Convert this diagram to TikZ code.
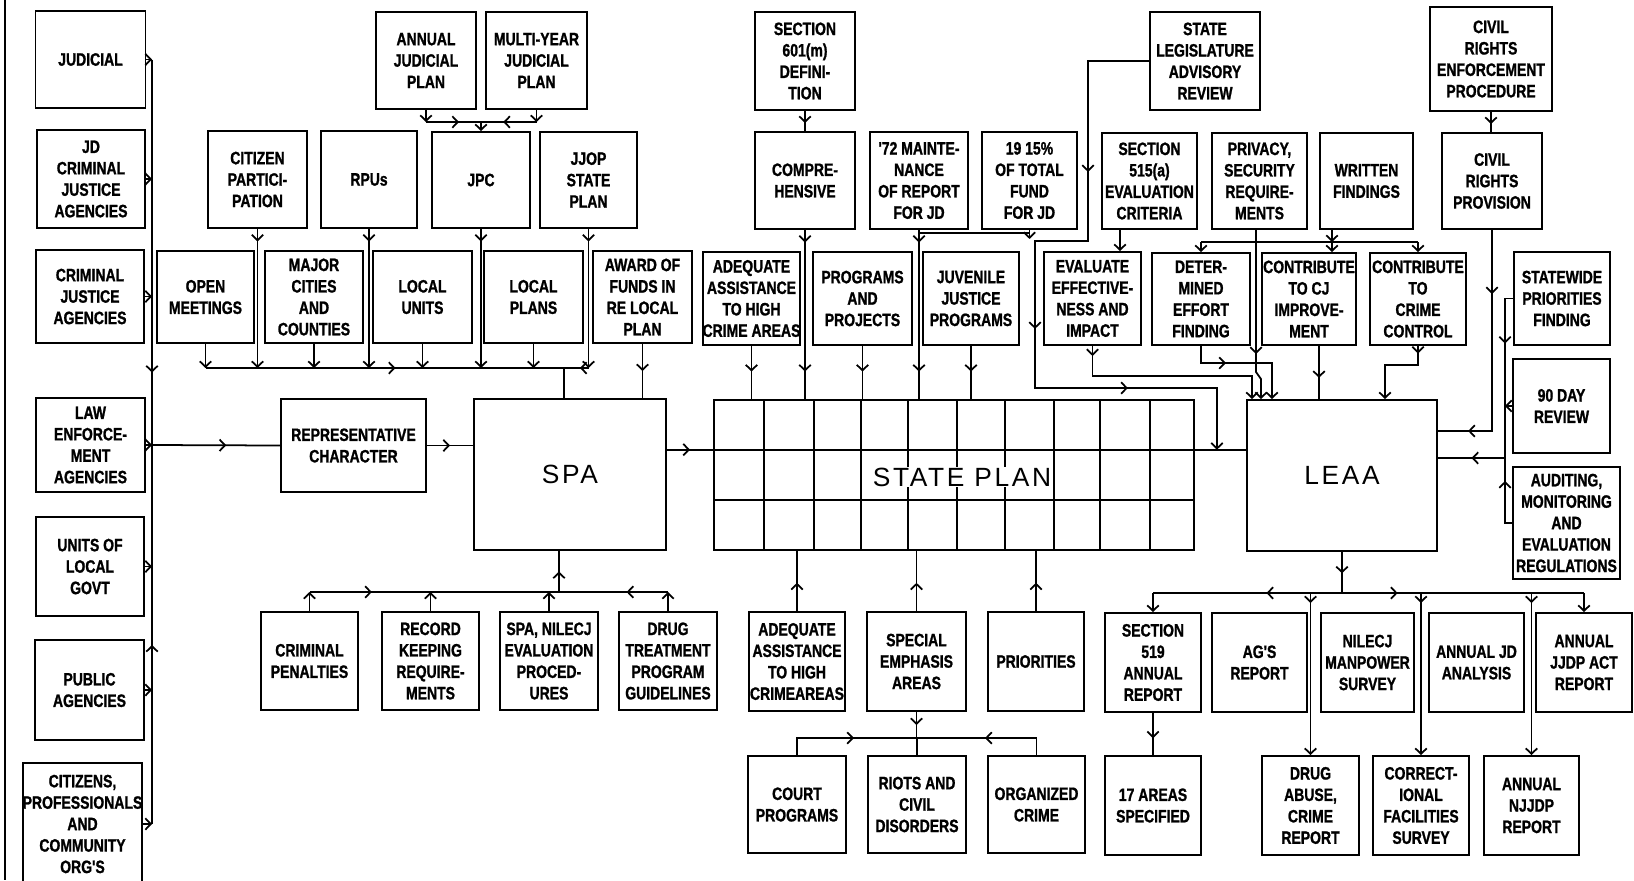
\documentclass[tikz,border=0pt]{standalone}
\usepackage{fontspec}
\usetikzlibrary{arrows.meta,calc,decorations.markings}
\newfontfamily\boxfont[FakeStretch=0.78, BoldFeatures={FakeBold=1.2}]{Liberation Sans}
\newfontfamily\bigfont[LetterSpace=10]{Liberation Sans}

\begin{document}
\begin{tikzpicture}[
    x=0.02cm, y=-0.02cm,
    >={Straight Barb[length=1.1mm,width=2.3mm]},
    blk/.style={draw, line width=1.1pt, inner sep=0pt, align=center, font=\boxfont\bfseries\fontsize{10.2}{12.2}\selectfont},
    hub/.style={draw, line width=1.1pt, inner sep=0pt, font=\bigfont\fontsize{15}{18}\selectfont},
    sz/.style 2 args={minimum width=#1*0.02cm, minimum height=#2*0.02cm},
    lnk/.style={line width=1pt},
    tipat/.style={postaction={decorate, decoration={markings, mark=at position #1 with {\arrow{>}}}}}
]
\useasboundingbox (0,0) rectangle (1634,880);
\draw[lnk] (5,0) -- (5,880);

% left column
\node[blk, sz={110}{97}] (jud) at (90.5,59.5) {JUDICIAL};
\node[blk, sz={108}{98}] (jdcj) at (91,179) {JD\\CRIMINAL\\JUSTICE\\AGENCIES};
\node[blk, sz={108}{93}] (cja) at (90,296.5) {CRIMINAL\\JUSTICE\\AGENCIES};
\node[blk, sz={109}{94}] (lea) at (90.5,445) {LAW\\ENFORCE-\\MENT\\AGENCIES};
\node[blk, sz={108}{99}] (ulg) at (90,566.5) {UNITS OF\\LOCAL\\GOVT};
\node[blk, sz={109}{100}] (pub) at (89.5,690) {PUBLIC\\AGENCIES};
\node[blk, sz={119}{122}] (cit) at (82.5,824) {CITIZENS,\\PROFESSIONALS\\AND\\COMMUNITY\\ORG'S};

% top rows
\node[blk, sz={100}{97}] (ajp) at (426,60.5) {ANNUAL\\JUDICIAL\\PLAN};
\node[blk, sz={101}{97}] (myjp) at (536.5,60.5) {MULTI-YEAR\\JUDICIAL\\PLAN};
\node[blk, sz={99}{97}] (cp) at (257.5,179.5) {CITIZEN\\PARTICI-\\PATION};
\node[blk, sz={96}{97}] (rpu) at (369,179.5) {RPUs};
\node[blk, sz={98}{96}] (jpc) at (481,180) {JPC};
\node[blk, sz={97}{96}] (jjop) at (588.5,180) {JJOP\\STATE\\PLAN};
\node[blk, sz={100}{98}] (s601) at (805,61) {SECTION\\601(m)\\DEFINI-\\TION};
\node[blk, sz={100}{97}] (comp) at (805,180.5) {COMPRE-\\HENSIVE};
\node[blk, sz={98}{97}] (m72) at (919,180.5) {'72 MAINTE-\\NANCE\\OF REPORT\\FOR JD};
\node[blk, sz={95}{97}] (f1915) at (1029.5,180.5) {19 15\%\\OF TOTAL\\FUND\\FOR JD};
\node[blk, sz={95}{96}] (s515) at (1149.5,181) {SECTION\\515(a)\\EVALUATION\\CRITERIA};
\node[blk, sz={95}{96}] (priv) at (1259.5,181) {PRIVACY,\\SECURITY\\REQUIRE-\\MENTS};
\node[blk, sz={93}{96}] (wf) at (1366.5,181) {WRITTEN\\FINDINGS};
\node[blk, sz={110}{98}] (slar) at (1205,61) {STATE\\LEGISLATURE\\ADVISORY\\REVIEW};
\node[blk, sz={122}{104}] (cre) at (1491,59) {CIVIL\\RIGHTS\\ENFORCEMENT\\PROCEDURE};
\node[blk, sz={100}{96}] (crp) at (1492,181) {CIVIL\\RIGHTS\\PROVISION};

\node[blk, sz={97}{92}] (om) at (205.5,297) {OPEN\\MEETINGS};
\node[blk, sz={98}{92}] (mcc) at (314,297) {MAJOR\\CITIES\\AND\\COUNTIES};
\node[blk, sz={99}{92}] (lu) at (422.5,297) {LOCAL\\UNITS};
\node[blk, sz={99}{92}] (lp) at (533.5,297) {LOCAL\\PLANS};
\node[blk, sz={99}{92}] (aw) at (642.5,297) {AWARD OF\\FUNDS IN\\RE LOCAL\\PLAN};
\node[blk, sz={97}{93}] (aa) at (751.5,298.5) {ADEQUATE\\ASSISTANCE\\TO HIGH\\CRIME AREAS};
\node[blk, sz={99}{93}] (pp) at (862.5,298.5) {PROGRAMS\\AND\\PROJECTS};
\node[blk, sz={96}{93}] (jjp) at (971,298.5) {JUVENILE\\JUSTICE\\PROGRAMS};
\node[blk, sz={97}{93}] (eei) at (1092.5,298.5) {EVALUATE\\EFFECTIVE-\\NESS AND\\IMPACT};
\node[blk, sz={98}{92}] (def) at (1201,299) {DETER-\\MINED\\EFFORT\\FINDING};
\node[blk, sz={94}{92}] (ccj) at (1309,299) {CONTRIBUTE\\TO CJ\\IMPROVE-\\MENT};
\node[blk, sz={96}{92}] (ccc) at (1418,299) {CONTRIBUTE\\TO\\CRIME\\CONTROL};
\node[blk, sz={96}{93}] (swp) at (1562,298.5) {STATEWIDE\\PRIORITIES\\FINDING};
\node[blk, sz={97}{94}] (d90) at (1561.5,406) {90 DAY\\REVIEW};
\node[blk, sz={107}{112}] (amer) at (1566.5,523) {AUDITING,\\MONITORING\\AND\\EVALUATION\\REGULATIONS};

% middle
\node[blk, sz={145}{93}] (rc) at (353.5,445.5) {REPRESENTATIVE\\CHARACTER};
\node[hub, sz={192}{151}] (spa) at (570,474.5) {SPA};
\node[draw, line width=1.1pt, sz={480}{150}] (plan) at (954,475) {};
\node[hub, sz={190}{151}] (leaa) at (1342,475.5) {LEAA};

% bottom rows
\node[blk, sz={97}{98}] (crpen) at (309.5,661) {CRIMINAL\\PENALTIES};
\node[blk, sz={97}{98}] (rkr) at (430.5,661) {RECORD\\KEEPING\\REQUIRE-\\MENTS};
\node[blk, sz={98}{98}] (snep) at (549,661) {SPA, NILECJ\\EVALUATION\\PROCED-\\URES};
\node[blk, sz={98}{98}] (dtpg) at (668,661) {DRUG\\TREATMENT\\PROGRAM\\GUIDELINES};
\node[blk, sz={96}{99}] (aab) at (797,661.5) {ADEQUATE\\ASSISTANCE\\TO HIGH\\CRIMEAREAS};
\node[blk, sz={99}{99}] (sea) at (916.5,661.5) {SPECIAL\\EMPHASIS\\AREAS};
\node[blk, sz={96}{99}] (pri) at (1036,661.5) {PRIORITIES};
\node[blk, sz={96}{99}] (s619) at (1153,662.5) {SECTION\\519\\ANNUAL\\REPORT};
\node[blk, sz={95}{99}] (ags) at (1259.5,662.5) {AG'S\\REPORT};
\node[blk, sz={93}{99}] (nms) at (1367.5,662.5) {NILECJ\\MANPOWER\\SURVEY};
\node[blk, sz={95}{99}] (ajd) at (1476.5,662.5) {ANNUAL JD\\ANALYSIS};
\node[blk, sz={96}{99}] (ajjdp) at (1584,662.5) {ANNUAL\\JJDP ACT\\REPORT};
\node[blk, sz={98}{97}] (cpg) at (797,804.5) {COURT\\PROGRAMS};
\node[blk, sz={98}{97}] (rcd) at (917,804.5) {RIOTS AND\\CIVIL\\DISORDERS};
\node[blk, sz={97}{97}] (oc) at (1036.5,804.5) {ORGANIZED\\CRIME};
\node[blk, sz={96}{99}] (a17) at (1153,805.5) {17 AREAS\\SPECIFIED};
\node[blk, sz={97}{99}] (dac) at (1310.5,805.5) {DRUG\\ABUSE,\\CRIME\\REPORT};
\node[blk, sz={96}{99}] (cfs) at (1421,805.5) {CORRECT-\\IONAL\\FACILITIES\\SURVEY};
\node[blk, sz={95}{99}] (anj) at (1531.5,805.5) {ANNUAL\\NJJDP\\REPORT};

% state plan grid
\foreach \gx in {51,101,148,195,244,292,341,387,437}
  \draw[lnk] ($(plan.north west)+(\gx,0)$) -- ($(plan.south west)+(\gx,0)$);
\coordinate (prowl) at ($(plan.north west)!1/3!(plan.south west)$);
\coordinate (prow) at ($(plan.north east)!1/3!(plan.south east)$);
\draw[lnk] (prowl) -- (prow);
\draw[lnk] ($(plan.north west)!2/3!(plan.south west)$) -- ($(plan.north east)!2/3!(plan.south east)$);
\node[font=\bigfont\fontsize{15}{18}\selectfont, fill=white, inner sep=0.5pt] (plantxt) at (962,477) {STATE PLAN};

% left bus
\coordinate (lbus) at (152,0);
\foreach \b in {jud,jdcj,cja,lea,ulg,pub,cit}
  \draw[lnk,->] (\b.east) -- (\b.east -| lbus);
\draw[lnk, tipat=-1.45cm] (jud.east -| lbus) -- (lea.east -| lbus);
\draw[lnk, tipat=-4cm] (cit.east -| lbus) -- (lea.east -| lbus);
\draw[lnk, tipat=0.58] (lea.east -| lbus) -- (rc.west);
\draw[lnk, tipat=0.5] (rc.east) -- (rc.east -| spa.west);
\draw[lnk, tipat=0.5] (spa.east |- prowl) -- (prowl);
\draw[lnk] (prow) -- (prow -| leaa.west);

% into SPA from above
\coordinate (tbus) at (564,368);
\foreach \b in {om,mcc,lu,lp}
  \draw[lnk,->] (\b.south) -- (\b.south |- tbus);
\foreach \b in {cp,rpu,jpc,jjop}
  \draw[lnk,->,tipat=0.25cm] (\b.south) -- (\b.south |- tbus);
\draw[lnk, tipat=0.53] (om.south |- tbus) -- (tbus);
\draw[lnk, tipat=0.35] (jjop.south |- tbus) -- (tbus);
\draw[lnk] (tbus) -- (tbus |- spa.north);
\draw[lnk, tipat=0.5] (aw.south) -- (aw.south |- spa.north);

\coordinate (jbus) at (481,122);
\draw[lnk,->] (ajp.south) -- (ajp.south |- jbus);
\draw[lnk,->] (myjp.south) -- (myjp.south |- jbus);
\draw[lnk, tipat=0.6] (ajp.south |- jbus) -- (jbus);
\draw[lnk, tipat=0.6] (myjp.south |- jbus) -- (jbus);
\draw[lnk,->] (jbus) -- (jpc.north);

% into the state plan from above
\draw[lnk, tipat=0.6] (s601.south) -- (comp.north);
\foreach \b in {aa,pp,jjp}
  \draw[lnk, tipat=-0.55cm] (\b.south) -- (\b.south |- plan.north);
\foreach \b in {comp,m72}
  \draw[lnk, tipat=0.25cm, tipat=-0.55cm] (\b.south) -- (\b.south |- plan.north);
\coordinate (fj) at (919,233);
\draw[lnk,->] (f1915.south) -- ++(0,9);
\draw[lnk] (f1915.south |- fj) -- (fj);

% legislature review
\coordinate (sl1) at (1088,241);
\coordinate (sl2) at (1035,388);
\coordinate (sl3) at ($(prow)+(22,0)$);
\draw[lnk, ->, tipat=3.44cm, tipat=7.64cm, tipat=10.68cm] (slar.west) -| (sl1) -| (sl2) -| (sl3);

% into LEAA from above
\coordinate (sx) at (1120,0);
\draw[lnk,->] (s515.south -| sx) -- (eei.north -| sx);
\coordinate (le1) at (1252,376);
\draw[lnk, tipat=0.2cm, ->] (eei.south) |- (le1) -- (le1 |- leaa.north);
\coordinate (le2) at (1272,363);
\draw[lnk, tipat=0.84cm, ->] (def.south) |- (le2) -- (le2 |- leaa.north);
\coordinate (pv1) at (1256,372);
\coordinate (pv2) at (1261,379);
\draw[lnk, tipat=2.48cm, ->] (priv.south -| pv1) -- (pv1) -- (pv2) -- (pv2 |- leaa.north);
\coordinate (cj) at (1319,0);
\draw[lnk, tipat=0.6] (ccj.south -| cj) -- (cj |- leaa.north);
\coordinate (cc1) at (1385,365);
\draw[lnk, tipat=0.15cm, ->] (ccc.south) |- (cc1) -- (cc1 |- leaa.north);

\coordinate (wj) at (1332,242);
\draw[lnk,->] (wf.south -| wj) -- (wj);
\draw[lnk] (def.north |- wj) -- (ccc.north |- wj);
\draw[lnk,->] (def.north |- wj) -- (def.north);
\draw[lnk,->] (wj) -- (wj |- ccj.north);
\draw[lnk,->] (ccc.north |- wj) -- (ccc.north);

% civil rights and the right column
\draw[lnk, tipat=0.6] (cre.south) -- (cre.south |- crp.north);
\coordinate (cr1) at (1492,431);
\draw[lnk, tipat=1.28cm, tipat=4.5cm] (crp.south) -- (cr1) -- (cr1 -| leaa.east);
\coordinate (rb) at (1505,458);
\draw[lnk, tipat=1.06cm] (swp.west) -| (rb);
\draw[lnk,->] (d90.west) -- (d90.west -| rb);
\draw[lnk, tipat=0.98cm] (amer.west) -| (rb);
\draw[lnk, tipat=0.5] (rb) -- (rb -| leaa.east);

% out of LEAA
\coordinate (lb) at (1342,593);
\draw[lnk, tipat=0.52] (leaa.south) -- (lb);
\draw[lnk, tipat=0.4] (lb) -- (s619.north |- lb);
\draw[lnk, tipat=0.23] (lb) -- (ajjdp.north |- lb);
\foreach \b in {s619,ajjdp}
  \draw[lnk,->] (\b.north |- lb) -- (\b.north);
\foreach \b in {dac,cfs,anj}
  \draw[lnk,->,tipat=0.2cm] (\b.north |- lb) -- (\b.north);
\draw[lnk, tipat=0.6] (s619.south) -- (a17.north);

% into SPA from below
\coordinate (sbus) at (559,592);
\draw[lnk, tipat=0.5] (sbus) -- (sbus |- spa.south);
\draw[lnk, tipat=0.25] (crpen.north |- sbus) -- (sbus);
\draw[lnk, tipat=0.38] (dtpg.north |- sbus) -- (sbus);
\foreach \b in {crpen,rkr,snep,dtpg}
  \draw[lnk,->] (\b.north) -- (\b.north |- sbus);

% into the state plan from below
\foreach \b in {aab,sea,pri}
  \draw[lnk, tipat=0.47] (\b.north) -- (\b.north |- plan.south);
\coordinate (ebus) at (917,738);
\draw[lnk, tipat=0.5] (sea.south) -- (sea.south |- ebus);
\draw[lnk] (ebus) -- (rcd.north);
\draw[lnk, tipat=1.48cm] (cpg.north) |- (ebus);
\draw[lnk, tipat=1.37cm] (oc.north) |- (ebus);
\end{tikzpicture}
\end{document}
